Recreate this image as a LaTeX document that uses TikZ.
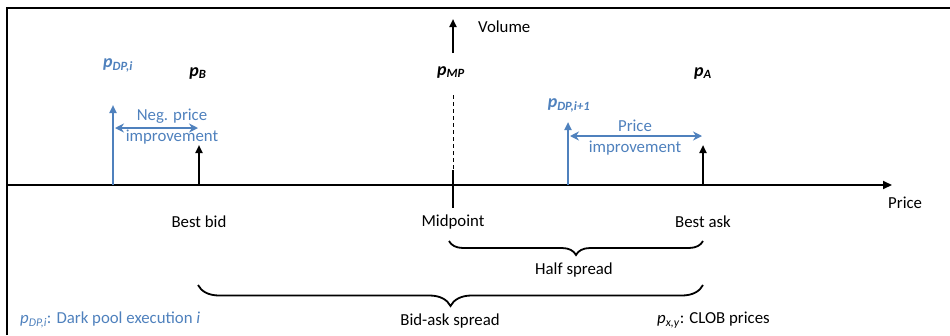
\documentclass[tikz,border=0pt]{standalone}
\usepackage{fontspec}
\setmainfont{Carlito}
\usetikzlibrary{arrows.meta,decorations.pathreplacing}
\definecolor{dpblue}{RGB}{79,129,189}
\begin{document}
\begin{tikzpicture}[x=1pt,y=-1pt,
  txt/.style={font=\fontsize{16.8}{21}\selectfont, inner sep=0pt, align=center},
  plab/.style={txt, font=\fontsize{18}{21}\selectfont\bfseries\itshape},
  ax/.style={line width=2pt},
  uparrow/.style={line width=2pt, -{Triangle[length=8pt,width=7pt]}},
  dbl/.style={line width=2pt, dpblue, {Stealth[length=9pt,width=9pt]}-{Stealth[length=9pt,width=9pt]}},
  brc/.style={line width=1.8pt, decorate, decoration={brace, mirror, amplitude=#1}},
]
\useasboundingbox (0,0) rectangle (950,335);
% frame
\draw[line width=2pt] (6.5,335) -- (6.5,7.5) -- (950,7.5);

% price axis
\coordinate (xs) at (6.5,185);
\coordinate (xe) at (892,185);
\draw[ax, -{Triangle[length=9pt,width=8pt]}] (xs) -- (xe);
\node[txt, anchor=west] (price) at (888,203) {Price};

% volume axis at the midpoint
\coordinate (v0) at (453,53);
\coordinate (v1) at (453,19);
\coordinate (d0) at (453,95);
\coordinate (d1) at (453,170);
\coordinate (t1) at (453,208);
\draw[uparrow] (v0) -- (v1);
\draw[line width=1pt, dash pattern=on 4pt off 3pt] (d0) -- (d1);
\draw[ax] (d1) -- (t1);
\node[txt, anchor=west] (volume) at (478,27) {Volume};
\node[plab] (pmp) at (451,72) {p\textsubscript{MP}};

% best bid / best ask
\coordinate (b0) at (199,185);
\coordinate (b1) at (199,145);
\coordinate (a0) at (703,185);
\coordinate (a1) at (703,145);
\draw[uparrow] (b0) -- (b1);
\draw[uparrow] (a0) -- (a1);
\node[plab] (pb) at (198,73) {p\textsubscript{B}};
\node[plab] (pa) at (703,73) {p\textsubscript{A}};

% dark pool executions
\coordinate (e0) at (113,185);
\coordinate (e1) at (113,105);
\coordinate (f0) at (568,185);
\coordinate (f1) at (568,122);
\draw[uparrow, dpblue] (e0) -- (e1);
\draw[uparrow, dpblue] (f0) -- (f1);
\node[plab, dpblue] (pdpi) at (118,65) {p\textsubscript{DP,i}};
\node[plab, dpblue] (pdpj) at (569,105) {p\textsubscript{DP,i+1}};

% price improvements
\coordinate (n0) at (115,128);
\coordinate (n1) at (198,128);
\coordinate (m0) at (570,136);
\coordinate (m1) at (702,136);
\draw[dbl] (n0) -- (n1);
\draw[dbl] (m0) -- (m1);
\node[txt, dpblue] (negimp) at (172,126.5) {Neg. price\\improvement};
\node[txt, dpblue] (posimp) at (635,137.5) {Price\\improvement};

% axis point labels
\node[txt] (bestbid) at (199,222) {Best bid};
\node[txt] (midpt) at (453,222) {Midpoint};
\node[txt] (bestask) at (703,222) {Best ask};

% spreads
\coordinate (h0) at (449,241);
\coordinate (h1) at (703,241);
\coordinate (s0) at (198,285);
\coordinate (s1) at (703,285);
\draw[brc=14pt] (h0) -- (h1);
\draw[brc=21pt] (s0) -- (s1);
\node[txt] (half) at (574,270) {Half spread};
\node[txt] (bidask) at (450,321) {Bid-ask spread};

% legend
\node[txt, dpblue, anchor=west] (leg1) at (20,320) {\textit{p}\textsubscript{\textit{DP,i}}: Dark pool execution \textit{i}};
\node[txt, anchor=west] (leg2) at (657,320) {\textit{p}\textsubscript{\textit{x,y}}: CLOB prices};
\end{tikzpicture}
\end{document}
